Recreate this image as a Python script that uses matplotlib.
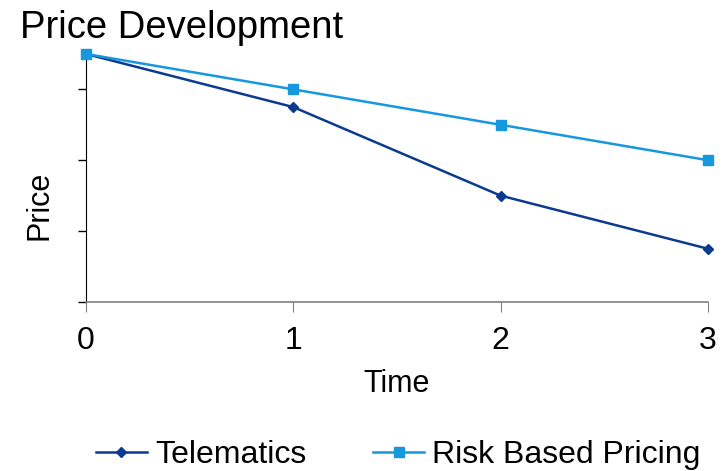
import matplotlib
matplotlib.use("Agg")
import matplotlib.pyplot as plt

plt.rcParams["font.family"] = ["Liberation Sans", "DejaVu Sans"]

# Price index per time step
time = [0, 1, 2, 3]
telematics = [3.5, 2.75, 1.5, 0.75]
risk_based = [3.5, 3.0, 2.5, 2.0]

fig = plt.figure(figsize=(7.28, 4.71), dpi=100)
ax = fig.add_axes([0.118, 0.359, 0.8545, 0.5265])

ax.plot(time, telematics, color="#0B3A8F", lw=1.8, marker="D", ms=5,
        clip_on=False, zorder=3, label="Telematics")
ax.plot(time, risk_based, color="#1797DD", lw=1.8, marker="s", ms=7,
        clip_on=False, zorder=4, label="Risk Based Pricing")

ax.set_xlim(0, 3)
ax.set_ylim(0, 3.5)
ax.set_xticks(time)
ax.set_yticks([0, 1, 2, 3])
ax.set_yticklabels([])
ax.tick_params(axis="x", labelsize=23, length=7, color="#808080", pad=10)
ax.tick_params(axis="y", length=6, width=1)

ax.spines["top"].set_visible(False)
ax.spines["right"].set_visible(False)
ax.spines["bottom"].set_color("#808080")
ax.spines["bottom"].set_linewidth(1.2)

ax.set_xlabel("Time", fontsize=22, labelpad=10)
ax.set_ylabel("Price", fontsize=22)
ax.yaxis.set_label_coords(-0.051, 0.39)

fig.text(0.027, 0.94, "Price Development", fontsize=27.5, va="center")

fig.legend(loc="center", bbox_to_anchor=(0.547, 0.033), ncol=2, frameon=False,
           fontsize=23, handlelength=1.6, handletextpad=0.25, columnspacing=2.1)

fig.savefig("out.png", dpi=100)
